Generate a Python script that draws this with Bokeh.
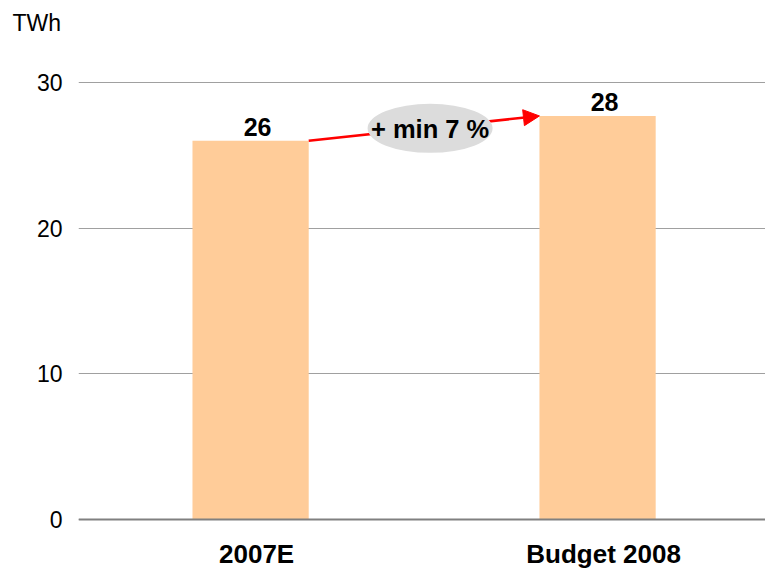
from bokeh.plotting import figure
from bokeh.models import Range1d, Span, Arrow, NormalHead, ColumnDataSource, FixedTicker
from bokeh.core.properties import value
from bokeh.embed import file_html
from bokeh.resources import INLINE

# ---- data ----
categories = ["2007E", "Budget 2008"]
values = [26.0, 27.7]
value_labels = ["26", "28"]
growth_label = "+ min 7 %"
unit_label = "TWh"
y_ticks = [0, 10, 20, 30]

FONT = "Liberation Sans"
BAR_W = 0.335
BAR_COLOR = "#FFCC99"
X0, X1 = -0.496, 1.484
FRAME_W = 765 - 78
LABEL_DX = 6  # px: labels sit slightly right of bar centres

idx = list(range(len(categories)))
src = ColumnDataSource(dict(x=idx, top=values, lab=value_labels, cat=categories,
                            zero=[0] * len(idx)))

p = figure(width=765, height=569, output_backend="svg", toolbar_location=None,
           x_range=Range1d(X0, X1), y_range=Range1d(-3.43, 32.88),
           x_axis_location=None, min_border_left=78, min_border_right=0,
           min_border_top=40, min_border_bottom=0, title=unit_label)

p.title.align = "left"
p.title.offset = -66
p.title.text_font = FONT
p.title.text_font_size = "23px"
p.title.text_font_style = "normal"
p.title.text_color = "black"

p.outline_line_color = None
p.background_fill_color = "white"
p.border_fill_color = "white"
p.xgrid.visible = False

# y axis
p.yaxis.ticker = FixedTicker(ticks=y_ticks)
p.yaxis.axis_line_color = None
p.yaxis.major_tick_line_color = None
p.yaxis.minor_tick_line_color = None
p.yaxis.major_tick_out = 0
p.yaxis.major_tick_in = 0
p.yaxis.major_label_standoff = 16
p.yaxis.major_label_text_font = FONT
p.yaxis.major_label_text_font_size = "23px"
p.yaxis.major_label_text_color = "black"
p.ygrid.grid_line_color = "#a0a0a0"
p.ygrid.grid_line_width = 1

# bars
p.vbar(x="x", top="top", width=BAR_W, source=src, fill_color=BAR_COLOR, line_color=None)

# zero line
p.add_layout(Span(location=0, dimension="width", line_color="#808080", line_width=2))

# value labels
p.text(x="x", y="top", text="lab", source=src, text_align="center",
       text_baseline="alphabetic", x_offset=LABEL_DX + 1, y_offset=-14, text_font=value(FONT),
       text_font_size="25px", text_font_style="bold", text_color="black")

# category labels
p.text(x="x", y="zero", text="cat", source=src, text_align="center",
       text_baseline="alphabetic", x_offset=LABEL_DX, y_offset=34, text_font=value(FONT),
       text_font_size="26px", text_font_style="bold", text_color="black")

# growth arrow
x0 = idx[0] + BAR_W / 2
x1 = idx[1] - BAR_W / 2
p.add_layout(Arrow(x_start=x0, y_start=values[0], x_end=x1, y_end=values[1],
                   line_color="red", line_width=2.5,
                   end=NormalHead(size=16, fill_color="red", line_color="red", line_width=1)))

mx = (x0 + x1) / 2 + LABEL_DX * (X1 - X0) / FRAME_W
my = (values[0] + values[1]) / 2
p.ellipse(x=[mx], y=[my], width=125, height=49, width_units="screen", height_units="screen",
          fill_color="#DCDCDC", line_color=None, level="overlay")
p.text(x=[mx], y=[my], text=[growth_label], text_align="center", text_baseline="alphabetic",
       y_offset=1, text_font=value(FONT), text_font_size="25.5px", text_font_style="bold",
       text_color="black", level="overlay")

open("out.html", "w").write(file_html(p, INLINE))
